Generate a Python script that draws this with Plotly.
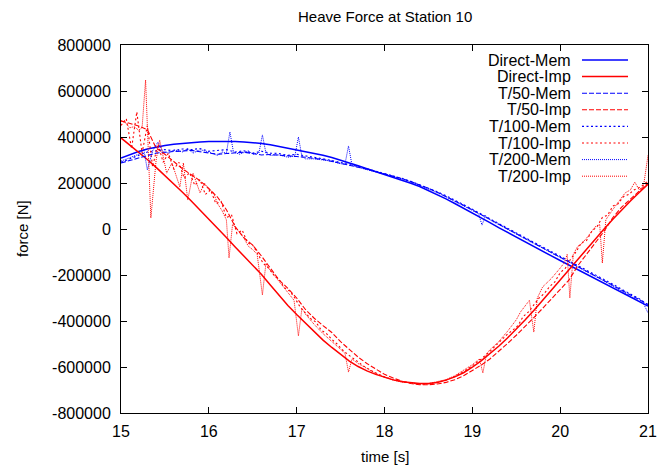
import plotly.graph_objects as go

K = 1000  # values below are in thousands of N

# ---- time grids ----
t_grid = [round(15 + 0.1 * i, 1) for i in range(61)]

# ---- direct solutions (thousands of N) ----
direct_mem = [309, 324, 337, 348, 357, 363, 368, 372, 375, 378,
              380, 381, 381, 380, 378, 376, 372, 366, 359, 351,
              345, 338, 330, 321, 311, 300, 288, 275, 262, 250,
              238, 226, 213, 199, 185, 168, 150, 131, 111, 91,
              71, 50, 28, 6, -15, -36, -57, -77, -97, -117,
              -137, -157, -177, -197, -217, -237, -257, -277, -297, -316,
              -335]
direct_imp = [396, 366, 335, 302, 268, 233, 197, 160, 122, 83,
              44, 4, -37, -78, -118, -158, -198, -243, -290, -333,
              -372, -410, -447, -483, -515, -546, -574, -598, -617, -632,
              -645, -656, -664, -669, -672, -672, -667, -657, -643, -625,
              -601, -573, -543, -510, -474, -436, -396, -354, -311, -267,
              -222, -177, -132, -87, -43, 0, 42, 83, 122, 159,
              195]

# ---- T/50 ----
t50_mem = [287, 298, 310, 322, 330, 334, 337, 340, 342, 336,
           330, 325, 328, 332, 334, 328, 322, 324, 322, 318,
           315, 312, 308, 302, 294, 286, 278, 270, 260, 250,
           240, 230, 219, 206, 192, 177, 160, 142, 123, 103,
           83, 62, 41, 20, -1, -21, -42, -62, -82, -102,
           -122, -142, -162, -182, -203, -224, -245, -266, -287, -307,
           -328]
t50_imp = [470, 458, 448, 432, 352, 325, 292, 262, 236, 210,
           176, 138, 84, 10, -38, -70, -118, -172, -222, -258,
           -300, -350, -388, -420, -450, -490, -525, -557, -585, -610,
           -632, -648, -662, -672, -677, -677, -674, -667, -655, -638,
           -615, -592, -565, -533, -498, -462, -425, -385, -345, -303,
           -262, -222, -160, -110, -65, -10, 50, 95, 130, 165,
           200]

# ---- T/100 ----
t100_mem = [290, 305, 320, 335, 340, 345, 340, 348, 345, 350,
            338, 340, 345, 335, 340, 330, 338, 330, 328, 320,
            325, 318, 310, 305, 298, 290, 282, 272, 262, 252,
            243, 232, 220, 207, 193, 178, 162, 145, 126, 106,
            86, 65, 44, 23, 2, -18, -38, -58, -78, -98,
            -118, -138, -158, -178, -198, -220, -240, -262, -283, -303,
            -330]
t100_imp_t = [15.00, 15.06, 15.12, 15.18, 15.24, 15.30, 15.36, 15.42, 15.48, 15.54,
              15.60, 15.66, 15.72, 15.78, 15.84, 15.90, 15.96, 16.02, 16.08, 16.14,
              16.20, 16.26, 16.32, 16.38, 16.44, 16.50, 16.56, 16.62, 16.68, 16.74,
              16.80, 16.86, 16.92, 16.98, 17.04, 17.10, 17.16, 17.22, 17.28, 17.34,
              17.40, 17.46, 17.52, 17.58, 17.64, 17.70, 17.76, 17.82, 17.88, 17.94,
              18.00, 18.10, 18.20, 18.30, 18.40, 18.50, 18.60, 18.70, 18.80, 18.90,
              19.00, 19.10, 19.20, 19.30, 19.40, 19.46, 19.52, 19.58, 19.64, 19.70,
              19.76, 19.82, 19.88, 19.94, 20.00, 20.06, 20.12, 20.18, 20.24, 20.30,
              20.36, 20.42, 20.48, 20.54, 20.60, 20.66, 20.72, 20.78, 20.84, 20.90,
              20.96, 21.00]
t100_imp = [450, 480, 350, 509, 330, 450, 270, 370, 290, 330,
            260, 290, 220, 245, 190, 215, 150, 170, 110, 120,
            50, 60, -20, -5, -60, -70, -110, -150, -170, -200,
            -220, -255, -270, -300, -340, -365, -390, -405, -440, -455,
            -480, -500, -525, -545, -560, -578, -595, -610, -622, -633,
            -643, -655, -664, -670, -674, -673, -667, -657, -641, -620,
            -595, -566, -532, -495, -457, -440, -420, -380, -360, -330,
            -300, -280, -250, -230, -190, -170, -130, -100, -60, -50,
            -10, 10, 50, 60, 100, 110, 140, 150, 170, 180,
            195, 210]

# ---- T/200 ----
t200_mem_t = [15.0, 15.1, 15.2, 15.26, 15.3, 15.36, 15.42, 15.48, 15.55, 15.6,
              15.7, 15.76, 15.82, 15.9, 16.0, 16.06, 16.1, 16.15, 16.2, 16.24,
              16.28, 16.35, 16.45, 16.5, 16.57, 16.61, 16.65, 16.7, 16.8, 16.9,
              16.98, 17.02, 17.06, 17.1, 17.2, 17.3, 17.4, 17.5, 17.55, 17.59,
              17.63, 17.7, 17.8, 17.9, 18.0, 18.1, 18.2, 18.3, 18.4, 18.5,
              18.6, 18.7, 18.8, 18.9, 19.0, 19.07, 19.11, 19.15, 19.2, 19.3,
              19.4, 19.5, 19.6, 19.7, 19.8, 19.9, 20.0, 20.1, 20.2, 20.3,
              20.4, 20.5, 20.6, 20.7, 20.8, 20.9, 20.95, 21.0]
t200_mem = [295, 310, 325, 345, 257, 340, 378, 335, 330, 345,
            335, 350, 330, 345, 335, 325, 320, 335, 330, 422,
            335, 325, 340, 325, 330, 409, 330, 320, 322, 312,
            318, 400, 315, 305, 305, 300, 295, 284, 282, 361,
            278, 268, 258, 250, 240, 230, 218, 205, 190, 175,
            158, 140, 121, 100, 80, 67, 17, 58, 40, 19,
            -3, -23, -43, -63, -83, -103, -124, -144, -164, -185,
            -205, -226, -248, -270, -290, -312, -325, -365]
t200_imp_t = [15.00, 15.05, 15.10, 15.15, 15.20, 15.24, 15.28, 15.34, 15.40, 15.44,
              15.52, 15.58, 15.67, 15.71, 15.76, 15.82, 15.90, 15.95, 16.00, 16.05,
              16.10, 16.15, 16.20, 16.23, 16.27, 16.32, 16.40, 16.45, 16.50, 16.55,
              16.61, 16.65, 16.70, 16.80, 16.90, 16.97, 17.02, 17.06, 17.10, 17.20,
              17.30, 17.40, 17.50, 17.55, 17.59, 17.63, 17.70, 17.80, 17.90, 18.00,
              18.10, 18.20, 18.30, 18.40, 18.50, 18.60, 18.70, 18.80, 18.90, 19.00,
              19.08, 19.12, 19.16, 19.20, 19.30, 19.40, 19.50, 19.55, 19.60, 19.65,
              19.70, 19.74, 19.80, 19.90, 20.00, 20.05, 20.08, 20.11, 20.15, 20.20,
              20.23, 20.30, 20.40, 20.45, 20.48, 20.52, 20.60, 20.70, 20.74, 20.80,
              20.85, 20.90, 20.95, 21.00]
t200_imp = [470, 462, 440, 445, 430, 440, 648, 48, 300, 387,
            243, 287, 183, 287, 126, 243, 157, 200, 170, 160,
            110, 80, 40, -126, 20, 0, -40, -75, -90, -110,
            -287, -150, -180, -230, -280, -310, -465, -345, -370, -415,
            -455, -490, -525, -540, -622, -565, -585, -608, -628, -645,
            -657, -665, -671, -674, -672, -665, -655, -638, -615, -590,
            -565, -626, -545, -525, -490, -445, -395, -360, -335, -310,
            -448, -300, -252, -215, -170, -145, -110, -300, -110, -75,
            -70, -40, 10, 20, -148, 40, 85, 140, 157, 170,
            204, 170, 190, 320]

# ---- axis ticks ----
x_ticks = [15, 16, 17, 18, 19, 20, 21]
y_ticks = [-800000, -600000, -400000, -200000, 0, 200000, 400000, 600000, 800000]
y_tick_text = [str(v) for v in y_ticks]

BLUE = "#0000ff"
RED = "#ff0000"
FONT = "Liberation Sans, Arial, sans-serif"

series = [
    ("Direct-Mem", t_grid, direct_mem, BLUE, "solid", 1.5),
    ("Direct-Imp", t_grid, direct_imp, RED, "solid", 1.5),
    ("T/50-Mem", t_grid, t50_mem, BLUE, "5px,2px", 1.1),
    ("T/50-Imp", t_grid, t50_imp, RED, "5px,2px", 1.1),
    ("T/100-Mem", t_grid, t100_mem, BLUE, "2px,2.5px", 1.1),
    ("T/100-Imp", t100_imp_t, t100_imp, RED, "2px,2.5px", 1.1),
    ("T/200-Mem", t200_mem_t, t200_mem, BLUE, "1px,1px", 1.0),
    ("T/200-Imp", t200_imp_t, t200_imp, RED, "1px,1px", 1.0),
]

fig = go.Figure()
for name, xs, ys, col, dash, w in series:
    fig.add_trace(go.Scatter(
        x=xs, y=[v * K for v in ys], mode="lines", name=name,
        line=dict(color=col, dash=dash, width=w), showlegend=False,
    ))

W, H = 660, 465
ML, MR, MT, MB = 121, 12, 45, 52
PW, PH = W - ML - MR, H - MT - MB

def px_x(px):
    return (px - ML) / PW

def px_y(py):
    return (H - MB - py) / PH

shapes = []
annotations = []
# custom gnuplot-style key: text right-aligned, sample on right
for i, (name, xs, ys, col, dash, w) in enumerate(series):
    yy = px_y(60 + i * 16.6)
    annotations.append(dict(
        x=px_x(573), y=yy, xref="paper", yref="paper", text=name,
        showarrow=False, xanchor="right", yanchor="middle",
        font=dict(family=FONT, size=16, color="black"),
    ))
    shapes.append(dict(
        type="line", xref="paper", yref="paper",
        x0=px_x(582), x1=px_x(628), y0=yy, y1=yy,
        line=dict(color=col, dash=dash, width=w),
    ))

annotations.append(dict(
    x=0.5, y=px_y(16), xref="paper", yref="paper",
    text="Heave Force at Station 10", showarrow=False,
    xanchor="center", yanchor="middle",
    font=dict(family=FONT, size=15, color="black"),
))
annotations.append(dict(
    x=0.5, y=px_y(456), xref="paper", yref="paper",
    text="time [s]", showarrow=False, xanchor="center", yanchor="middle",
    font=dict(family=FONT, size=15, color="black"),
))
annotations.append(dict(
    x=px_x(22), y=0.5, xref="paper", yref="paper",
    text="force [N]", showarrow=False, xanchor="center", yanchor="middle",
    textangle=-90, font=dict(family=FONT, size=15, color="black"),
))

fig.update_layout(
    width=W, height=H,
    margin=dict(l=ML, r=MR, t=MT, b=MB, pad=0, autoexpand=False),
    paper_bgcolor="white", plot_bgcolor="white",
    font=dict(family=FONT, size=16, color="black"),
    shapes=shapes, annotations=annotations, showlegend=False,
    xaxis=dict(
        range=[15, 21], tickvals=x_ticks, ticks="inside", ticklen=6,
        tickcolor="black", showline=True, linecolor="black", linewidth=1,
        mirror="allticks", showgrid=False, zeroline=False, automargin=False,
        tickfont=dict(family=FONT, size=16), ticklabelstandoff=4,
    ),
    yaxis=dict(
        range=[-800000, 800000], tickvals=y_ticks, ticktext=y_tick_text,
        ticks="inside", ticklen=6, tickcolor="black", showline=True,
        linecolor="black", linewidth=1, mirror="allticks", showgrid=False,
        zeroline=False, automargin=False, tickfont=dict(family=FONT, size=16),
        ticklabelstandoff=6,
    ),
)

fig.write_html("out.html")
